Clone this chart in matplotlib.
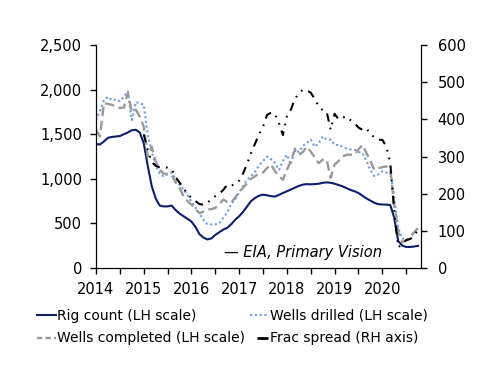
import numpy as np
import matplotlib
matplotlib.use('Agg')
import matplotlib.pyplot as plt
from matplotlib.lines import Line2D

# monthly data, Jan 2014 onwards
rig_count = [1390, 1385, 1420, 1460, 1470, 1475, 1480, 1500, 1520, 1545, 1550, 1520,
             1400, 1150, 920, 780, 700, 690, 690, 700, 650, 610, 580, 550,
             520, 460, 380, 340, 320, 330, 370, 400, 430, 450, 490, 540,
             580, 630, 690, 750, 785, 810, 822, 815, 805, 800, 820, 840,
             860, 880, 900, 920, 935, 940, 938, 940, 945, 955, 960, 955,
             945, 930, 915, 895, 875, 860, 840, 810, 780, 755, 730, 715,
             712, 710, 705, 560, 300, 250, 235, 235, 240, 248]

wells_drilled = [1660, 1760, 1880, 1920, 1880, 1890, 1870, 1920, 1980, 1660, 1860, 1850,
                 1830, 1500, 1300, 1150, 1060, 1030, 1060, 1070, 1000, 935, 880, 820,
                 740, 680, 610, 540, 487, 487, 490, 500, 560, 620, 720, 770,
                 850, 920, 990, 1030, 1080, 1150, 1200, 1250, 1220, 1180, 1100, 1200,
                 1270, 1160, 1340, 1300, 1370, 1400, 1440, 1360, 1400, 1475, 1440, 1440,
                 1380, 1380, 1360, 1340, 1330, 1325, 1300, 1290, 1200, 1100, 1030, 1050,
                 1085, 1070, 1070, 800, 450, 330, 320, 300]

wells_completed = [1550, 1475, 1850, 1840, 1830, 1810, 1795, 1800, 1960, 1755, 1775, 1700,
                   1585, 1250, 1360, 1195, 1100, 1060, 1045, 1045, 960, 900, 805, 750,
                   710, 660, 615, 630, 655, 660, 673, 720, 766, 740, 733, 790,
                   850, 900, 950, 1000, 1030, 1060, 1070, 1120, 1160, 1085, 1030, 990,
                   1100, 1200, 1325, 1270, 1300, 1360, 1305, 1240, 1175, 1215, 1215, 1010,
                   1160, 1200, 1250, 1270, 1270, 1270, 1330, 1380, 1290, 1200, 1100, 1120,
                   1130, 1140, 1100, 700, 400, 285, 310, 350, 400, 450]

# frac spread starts Jan 2015
frac_spread = [360, 318, 285, 275, 271, 271, 270, 266, 245, 230, 215, 200,
               188, 180, 172, 170, 175, 185, 193, 200, 210, 224, 222, 225,
               235, 255, 280, 310, 335, 360, 380, 412, 418, 415, 390, 358,
               408, 426, 455, 470, 480, 478, 472, 455, 435, 425, 421, 372,
               415, 400, 405, 408, 398, 390, 378, 372, 376, 360, 352, 345,
               345, 327, 282, 150, 55, 65, 75, 78, 85, 105]

years = [2014, 2015, 2016, 2017, 2018, 2019, 2020]

t_rig = 2014 + np.arange(len(rig_count)) / 12
t_dr = 2014 + np.arange(len(wells_drilled)) / 12
t_co = 2014 + np.arange(len(wells_completed)) / 12
t_fr = 2015 + np.arange(len(frac_spread)) / 12

plt.rcParams['font.family'] = 'DejaVu Sans'
plt.rcParams['font.size'] = 10

navy = '#0b1f6b'
blue = '#6a9ee0'
grey = '#9a9a9a'
frac_ls = (0, (4, 3, 0.8, 3, 0.8, 3))

fig = plt.figure(figsize=(5, 3.86), dpi=100)
ax = fig.add_axes([0.192, 0.306, 0.650, 0.577])
ax2 = ax.twinx()

ax.plot(t_rig, rig_count, color=navy, lw=1.5)
ax.plot(t_dr, wells_drilled, color=blue, lw=1.5, ls=(0, (1, 1.3)))
ax.plot(t_co, wells_completed, color=grey, lw=1.7, ls=(0, (4, 2)))
ax2.plot(t_fr, frac_spread, color='black', lw=1.5, ls=frac_ls)

ax.set_xlim(2014, 2020.81)
ax.set_ylim(0, 2500)
ax2.set_ylim(0, 600)
ax.set_yticks(range(0, 2501, 500))
ax.set_yticklabels(['{:,}'.format(v) for v in range(0, 2501, 500)])
ax2.set_yticks(range(0, 601, 100))
xt = np.arange(2014, 2020.6, 0.5)
ax.set_xticks(xt)
ax.set_xticklabels([str(int(x)) if int(x) in years and x == int(x) else '' for x in xt])

for a in (ax, ax2):
    a.spines['top'].set_visible(False)
    a.tick_params(direction='out', length=4, width=1, colors='black', labelsize=10.5)
ax.tick_params(axis='x', pad=6)
ax.tick_params(axis='y', pad=6)
ax2.tick_params(axis='y', pad=8)

ax.text(0.88, 0.035, '\u2014 EIA, Primary Vision', transform=ax.transAxes,
        ha='right', va='bottom', style='italic', fontsize=10.5)

# legend proxies
h1 = Line2D([], [], color=navy, lw=1.5)
h2 = Line2D([], [], color=blue, lw=1.5, ls=(0, (1, 1.3)))
h3 = Line2D([], [], color=grey, lw=1.7, ls=(0, (2.2, 1.4)))
h4 = Line2D([], [], color='black', lw=2, ls=(4.5, (4, 3)))
fig.legend(handles=[h1, h3, h2, h4],
           labels=['Rig count (LH scale)', 'Wells completed (LH scale)',
                   'Wells drilled (LH scale)', 'Frac spread (RH axis)'],
           loc='upper left', bbox_to_anchor=(0.074, 0.2), ncol=2, frameon=False,
           fontsize=10, handlelength=1.35, handletextpad=0.1, columnspacing=0.35,
           labelspacing=0.62, borderaxespad=0, borderpad=0)

fig.savefig('out.png', dpi=100)
